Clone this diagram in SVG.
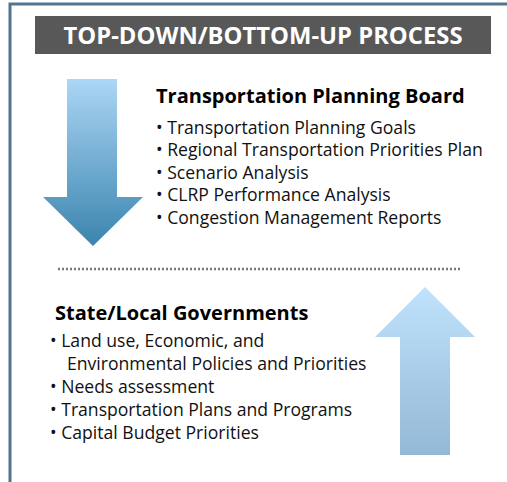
<svg xmlns="http://www.w3.org/2000/svg" width="507" height="482" viewBox="0 0 507 482">
<style>
.head{font-family:"Open Sans","Noto Sans",sans-serif;font-weight:bold;font-size:20px;fill:#000}
.item{font-family:"Open Sans","Noto Sans",sans-serif;font-size:17.6px;fill:#111}
.title{font-family:"Open Sans","Noto Sans",sans-serif;font-weight:bold;font-size:23.8px;fill:#fff}
</style>
<defs>
<linearGradient id="gDown" x1="0" y1="0" x2="0" y2="1">
<stop offset="0" stop-color="#acd6f5"/>
<stop offset="1" stop-color="#3a84ae"/>
</linearGradient>
<linearGradient id="gUp" x1="0" y1="0" x2="0" y2="1">
<stop offset="0" stop-color="#c0e2fc"/>
<stop offset="1" stop-color="#94b9d6"/>
</linearGradient>
</defs>
<rect width="507" height="482" fill="#fff"/>
<g id="frame">
<path d="M10,482 V4 H507" fill="none" stroke="#4f7590" stroke-width="3"/>
</g>
<g id="title">
<rect x="35" y="16" width="456" height="38" fill="#585858"/>
<text class="title" x="263" y="43.5" text-anchor="middle">TOP-DOWN/BOTTOM-UP PROCESS</text>
</g>
<g id="down-arrow">
<polygon points="67,79 117,79 117,197 143,197 93,246 43,197 67,197" fill="url(#gDown)"/>
</g>
<g id="up-arrow">
<polygon points="425,287 475,337 450,337 450,455 400,455 400,337 375,337" fill="url(#gUp)"/>
</g>
<g id="connectors">
<line x1="58" y1="269" x2="460" y2="269" stroke="#777" stroke-width="2.5" stroke-dasharray="2,2"/>
</g>
<g id="tpb">
<text class="head" x="156" y="102.5">Transportation Planning Board</text>
<text class="item" x="156" y="133.5">• Transportation Planning Goals</text>
<text class="item" x="156" y="156">• Regional Transportation Priorities Plan</text>
<text class="item" x="156" y="178.5">• Scenario Analysis</text>
<text class="item" x="156" y="201">• CLRP Performance Analysis</text>
<text class="item" x="156" y="223.5">• Congestion Management Reports</text>
</g>
<g id="slg">
<text class="head" x="55" y="320">State/Local Governments</text>
<text class="item" x="50" y="346.5">• Land use, Economic, and</text>
<text class="item" x="67" y="369.5">Environmental Policies and Priorities</text>
<text class="item" x="50" y="393">• Needs assessment</text>
<text class="item" x="50" y="416">• Transportation Plans and Programs</text>
<text class="item" x="50" y="438.5">• Capital Budget Priorities</text>
</g>
</svg>
